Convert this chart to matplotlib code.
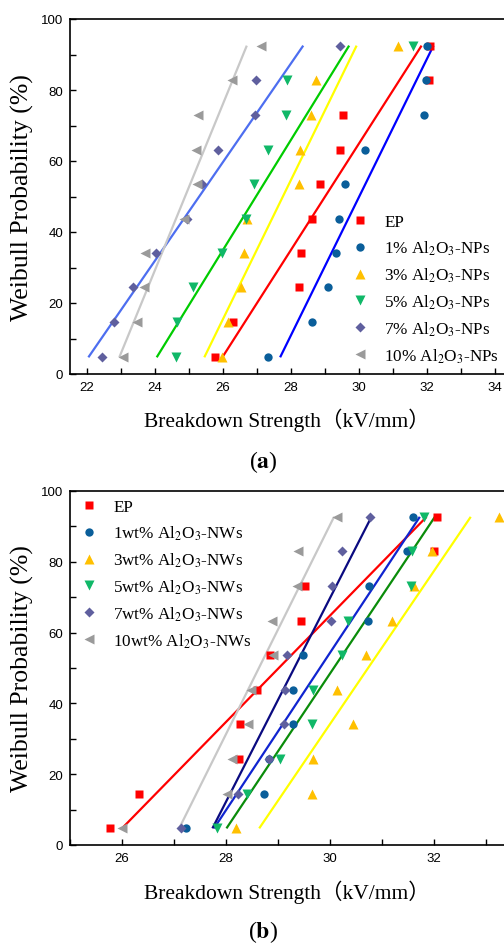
import matplotlib
matplotlib.use("Agg")
import matplotlib.pyplot as plt
from matplotlib.ticker import MultipleLocator

plt.rcParams["mathtext.fontset"] = "stix"

# Weibull probability levels (%) of the ranked specimens
prob_a = [4.7, 14.6, 24.4, 34.1, 43.7, 53.5, 63.1, 73.0, 82.8, 92.5]
prob_b = [4.7, 14.5, 24.4, 34.2, 43.9, 53.7, 63.4, 73.3, 83.0, 92.7]

# (a) nanoparticle composites: breakdown strength (kV/mm)
labels_a = ["EP", "1% Al$_2$O$_3$-NPs", "3% Al$_2$O$_3$-NPs",
            "5% Al$_2$O$_3$-NPs", "7% Al$_2$O$_3$-NPs", "10% Al$_2$O$_3$-NPs"]
ep_a = [25.76, 26.30, 28.24, 28.28, 28.61, 28.86, 29.44, 29.53, 32.06, 32.09]
np1 = [27.33, 28.61, 29.10, 29.32, 29.40, 29.60, 30.17, 31.91, 31.96, 32.01]
np3 = [25.98, 26.16, 26.53, 26.61, 26.72, 28.23, 28.26, 28.58, 28.73, 31.16]
np5 = [24.61, 24.66, 25.13, 25.98, 26.68, 26.92, 27.33, 27.85, 27.87, 31.60]
np7 = [22.43, 22.79, 23.34, 24.03, 24.93, 25.37, 25.84, 26.94, 26.96, 29.44]
np10 = [23.07, 23.48, 23.68, 23.71, 24.85, 25.24, 25.20, 25.27, 26.27, 27.12]
# fitted Weibull lines: strength at the lowest and highest probability level
fit_lo_a = [25.98, 27.68, 25.45, 24.05, 22.04, 22.95]
fit_hi_a = [31.84, 32.19, 29.93, 29.71, 28.36, 26.70]

# (b) nanowire composites: breakdown strength (kV/mm)
labels_b = ["EP", "1wt% Al$_2$O$_3$-NWs", "3wt% Al$_2$O$_3$-NWs",
            "5wt% Al$_2$O$_3$-NWs", "7wt% Al$_2$O$_3$-NWs", "10wt% Al$_2$O$_3$-NWs"]
ep_b = [25.77, 26.32, 28.25, 28.28, 28.60, 28.85, 29.44, 29.53, 32.00, 32.06]
nw1 = [27.23, 28.73, 28.83, 29.29, 29.29, 29.49, 30.74, 30.76, 31.49, 31.60]
nw3 = [28.20, 29.65, 29.67, 30.45, 30.14, 30.69, 31.20, 31.62, 31.97, 33.25]
nw5 = [27.83, 28.41, 29.04, 29.66, 29.68, 30.23, 30.34, 31.56, 31.58, 31.81]
nw7 = [27.13, 28.24, 28.83, 29.12, 29.13, 29.17, 30.03, 30.05, 30.24, 30.77]
nw10 = [26.01, 28.03, 28.11, 28.42, 28.48, 28.90, 28.88, 29.37, 29.39, 30.13]
fit_lo_b = [26.00, 27.77, 28.64, 28.01, 27.74, 27.10]
fit_hi_b = [31.86, 31.73, 32.71, 32.02, 30.80, 30.08]

markers = ["s", "o", "^", "v", "D", "<"]
msizes = [5.4, 6.0, 7.0, 7.0, 5.2, 7.0]
mcolors = ["#FF0000", "#0A5E9A", "#FFC000", "#10B868", "#5F5F9E", "#9A9A9A"]
lcolors_a = ["#FF0000", "#0000FF", "#FFFF00", "#00CC00", "#4D6EF0", "#C8C8C8"]
lcolors_b = ["#FF0000", "#1024D0", "#FFFF00", "#0A8C0A", "#0A0A80", "#C8C8C8"]

W, H = 504, 945
fig = plt.figure(figsize=(W / 100, H / 100), dpi=100)

serif = ["Liberation Serif", "Noto Sans CJK SC"]
tick_font = "Liberation Sans"


def px_axes(left, top, right, bottom):
    return fig.add_axes([left / W, 1 - bottom / H, (right - left) / W, (bottom - top) / H])


def style(ax, xlim, xmajor):
    ax.set_xlim(*xlim)
    ax.set_ylim(0, 100)
    ax.xaxis.set_major_locator(MultipleLocator(xmajor))
    ax.xaxis.set_minor_locator(MultipleLocator(xmajor / 2))
    ax.yaxis.set_major_locator(MultipleLocator(20))
    ax.yaxis.set_minor_locator(MultipleLocator(10))
    ax.tick_params(which="both", direction="in", length=4, width=1.0,
                   labelsize=9.5, pad=5)
    for lab in ax.get_xticklabels() + ax.get_yticklabels():
        lab.set_fontfamily(tick_font)
    for s in ax.spines.values():
        s.set_linewidth(1.2)


def draw(ax, series, probs, lo, hi, lcolors, labels):
    handles = []
    for i, xs in enumerate(series):
        ax.plot([lo[i], hi[i]], [probs[0], probs[-1]], color=lcolors[i], lw=1.6,
                zorder=2, solid_capstyle="butt")
    for i, xs in enumerate(series):
        h, = ax.plot(xs, probs, linestyle="none", marker=markers[i],
                     ms=msizes[i], color=mcolors[i], mec="none", zorder=3,
                     label=labels[i])
        handles.append(h)
    return handles


legend_kw = dict(bbox_transform=fig.transFigure, frameon=False, loc="upper left",
                 prop={"family": serif, "size": 12.3}, handletextpad=0.95,
                 labelspacing=0.5, handlelength=1.0, borderpad=0,
                 borderaxespad=0)

# panel (a)
ax1 = px_axes(70, 20, 512, 375)
style(ax1, (21.5, 34.5), 2)
ha = draw(ax1, [ep_a, np1, np3, np5, np7, np10], prob_a, fit_lo_a, fit_hi_a,
          lcolors_a, labels_a)
ax1.legend(handles=ha, bbox_to_anchor=(351 / W, 1 - 215 / H), **legend_kw)

# panel (b): 52 px per kV/mm, axis runs past the right edge
ax2 = px_axes(70, 492, 517, 846)
style(ax2, (25, 33.6), 2)
hb = draw(ax2, [ep_b, nw1, nw3, nw5, nw7, nw10], prob_b, fit_lo_b, fit_hi_b,
          lcolors_b, labels_b)
ax2.legend(handles=hb, bbox_to_anchor=(80 / W, 1 - 500 / H), **legend_kw)

# axis titles and panel captions
for yc in (197.5, 669):
    fig.text(22 / W, 1 - yc / H, "Weibull Probability (%)", rotation=90,
             ha="center", va="center", fontfamily=serif, fontsize=18.5)
for yc in (420, 892):
    fig.text(287 / W, 1 - yc / H, "Breakdown Strength（kV/mm）", ha="center",
             va="center", fontfamily=serif, fontsize=15.5)
fig.text(263 / W, 1 - 462 / H, r"($\mathbf{a}$)", ha="center", va="center",
         fontfamily=serif, fontsize=17)
fig.text(263 / W, 1 - 932 / H, r"($\mathbf{b}$)", ha="center", va="center",
         fontfamily=serif, fontsize=17)

fig.savefig("out.png", dpi=100)
